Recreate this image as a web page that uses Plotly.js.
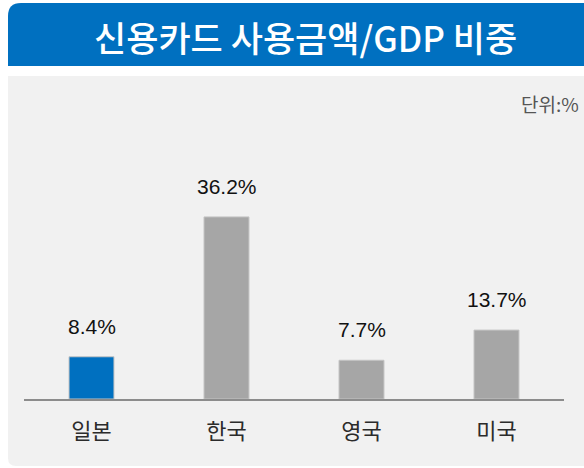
<!DOCTYPE html>
<html>
<head>
<meta charset="utf-8">
<script src="https://cdn.plot.ly/plotly-3.0.1.min.js"></script>
<style>html,body{margin:0;padding:0;background:#fff;}#chart{width:584px;height:468px;}</style>
</head>
<body>
<div id="chart"></div>
<script>
const chartTitle = '신용카드 사용금액/GDP 비중';
const unitLabel = '단위:%';
const categories = ['일본', '한국', '영국', '미국'];
const values = [8.4, 36.2, 7.7, 13.7];
const barColors = ['#0070C0', '#A6A6A6', '#A6A6A6', '#A6A6A6'];
const valueLabels = values.map(v => v.toFixed(1) + '%');

const W = 584, H = 468;
const M = {l: 24, r: 20, t: 120, b: 69};
const PW = W - M.l - M.r, PH = H - M.t - M.b;
const px = x => (x - M.l) / PW;
const py = y => (H - M.b - y) / PH;

function roundedPath(x0, y0, x1, y1, rTL, rBL) {
  const p = (x, y) => px(x) + ',' + py(y);
  let d = 'M ' + p(x0 + rTL, y0) + ' L ' + p(x1, y0) + ' L ' + p(x1, y1) + ' L ' + p(x0 + rBL, y1);
  if (rBL) d += ' Q ' + p(x0, y1) + ' ' + p(x0, y1 - rBL);
  d += ' L ' + p(x0, y0 + rTL);
  if (rTL) d += ' Q ' + p(x0, y0) + ' ' + p(x0 + rTL, y0);
  return d + ' Z';
}

const font = '"Noto Sans CJK KR", "Noto Sans", sans-serif';

const trace = {
  type: 'bar',
  x: categories,
  y: values,
  marker: {color: barColors, line: {color: '#C4C4C4', width: 1}},
  hoverinfo: 'skip'
};

const annotations = categories.map((c, i) => ({
  x: c, y: values[i], xref: 'x', yref: 'y',
  text: valueLabels[i], showarrow: false,
  yanchor: 'bottom', yshift: 17,
  font: {family: 'Liberation Sans, Arial, sans-serif', size: 21, color: '#111'}
}));
annotations.push({
  x: px(581), y: py(103), xref: 'paper', yref: 'paper',
  xanchor: 'right', yanchor: 'middle', showarrow: false,
  text: unitLabel, font: {family: font, size: 19, color: '#555'}
});
annotations.push({
  x: px(305), y: py(37), xref: 'paper', yref: 'paper',
  xanchor: 'center', yanchor: 'middle', showarrow: false,
  text: chartTitle, font: {family: font, size: 35, color: '#fff', weight: 500}
});

const layout = {
  width: W, height: H,
  margin: M,
  paper_bgcolor: '#fff',
  plot_bgcolor: 'rgba(0,0,0,0)',
  showlegend: false,
  bargap: 0.667,
  xaxis: {
    type: 'category', range: [-0.5, 3.5], fixedrange: true,
    showline: true, linecolor: '#8C8C8C', linewidth: 2,
    showgrid: false, zeroline: false, ticks: '', ticklabelstandoff: 12,
    tickfont: {family: font, size: 22, color: '#2b2b2b'}
  },
  yaxis: {
    range: [0, PH / 5.03], visible: false, showgrid: false, zeroline: false, fixedrange: true
  },
  shapes: [
    {type: 'path', xref: 'paper', yref: 'paper', layer: 'below',
     path: roundedPath(8, 3, 590, 66, 13, 0), fillcolor: '#0070C0', line: {width: 0}},
    {type: 'path', xref: 'paper', yref: 'paper', layer: 'below',
     path: roundedPath(8, 76, 590, 466, 0, 8), fillcolor: '#F1F1F1', line: {width: 0}}
  ],
  annotations: annotations
};

Plotly.newPlot('chart', [trace], layout, {displayModeBar: false, staticPlot: true});
</script>
</body>
</html>
